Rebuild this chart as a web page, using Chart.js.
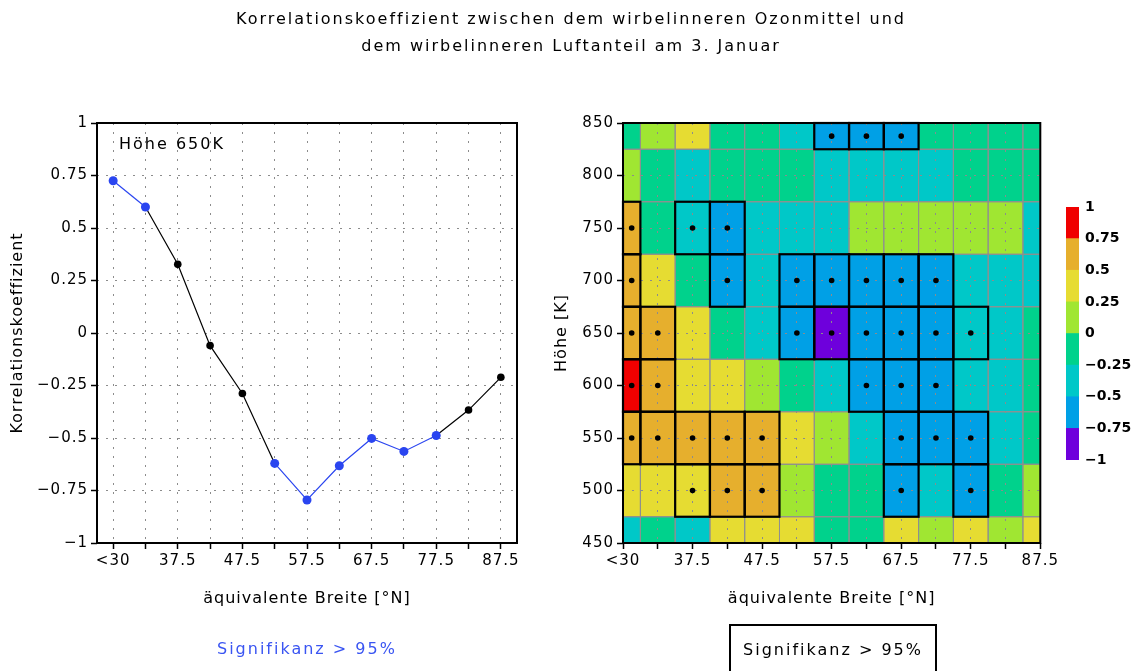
<!DOCTYPE html>
<html lang="de">
<head>
<meta charset="utf-8">
<title>Korrelationskoeffizient Ozonmittel / Luftanteil</title>
<script src="https://cdn.jsdelivr.net/npm/chart.js@4.4.0/dist/chart.umd.min.js"></script>
<style>
  body { margin: 0; background: #fff; }
  #wrap { position: relative; width: 1142px; height: 671px; overflow: hidden; font-family: "DejaVu Sans", sans-serif; }
  #wrap canvas { position: absolute; top: 0; }
  .txt { position: absolute; white-space: nowrap; color: #000; font-size: 16px; letter-spacing: 2px; }
  #titel { left: 0; width: 1142px; top: 5px; text-align: center; line-height: 27px; z-index: 2; }
  #hoehe { left: 119px; top: 134px; line-height: 20px; }
  #sigLinie { left: 217px; top: 639px; line-height: 20px; color: #3a55f2; }
  #sigKarte { left: 729px; top: 624px; width: 204px; height: 60px; border: 2px solid #000; border-bottom: none; line-height: 48px; text-align: center; }
</style>
</head>
<body>
<div id="wrap">
  <div id="titel" class="txt">Korrelationskoeffizient zwischen dem wirbelinneren Ozonmittel und<br>dem wirbelinneren Luftanteil am 3. Januar</div>
  <canvas id="linie" width="540" height="671" style="left:0"></canvas>
  <canvas id="karte" width="520" height="671" style="left:540px"></canvas>
  <canvas id="skala" width="82" height="671" style="left:1060px"></canvas>
  <div id="hoehe" class="txt"></div>
  <div id="sigLinie" class="txt">Signifikanz &gt; 95%</div>
  <div id="sigKarte" class="txt">Signifikanz &gt; 95%</div>
</div>
<script>
// äquivalente Breite (°N), Klassenmitten, und Höhenstufen (K)
const breiten = [27.5, 32.5, 37.5, 42.5, 47.5, 52.5, 57.5, 62.5, 67.5, 72.5, 77.5, 82.5, 87.5];
const breitenLabels = ['<30', '', '37.5', '', '47.5', '', '57.5', '', '67.5', '', '77.5', '', '87.5'];
const hoehen = [850, 800, 750, 700, 650, 600, 550, 500, 450];

// Korrelationskoeffizienten je Höhenstufe (27.5 ... 87.5 °N)
const k850 = [-0.08, 0.1, 0.3, -0.15, -0.2, -0.3, -0.55, -0.6, -0.55, -0.2, -0.15, -0.12, -0.1];
const k800 = [0.05, -0.18, -0.3, -0.22, -0.2, -0.24, -0.35, -0.33, -0.3, -0.28, -0.2, -0.15, -0.12];
const k750 = [0.58, -0.2, -0.45, -0.6, -0.4, -0.35, -0.3, 0.05, 0.1, 0.12, 0.1, 0.05, -0.3];
const k700 = [0.6, 0.35, -0.2, -0.55, -0.45, -0.58, -0.62, -0.6, -0.58, -0.55, -0.45, -0.4, -0.35];
const k650 = [0.725, 0.6, 0.327, -0.06, -0.288, -0.621, -0.795, -0.632, -0.502, -0.564, -0.488, -0.367, -0.211];
const k600 = [0.8, 0.6, 0.35, 0.3, 0.15, -0.1, -0.35, -0.58, -0.62, -0.6, -0.45, -0.35, -0.2];
const k550 = [0.68, 0.65, 0.6, 0.58, 0.55, 0.4, 0.1, -0.3, -0.55, -0.6, -0.55, -0.4, -0.22];
const k500 = [0.4, 0.42, 0.48, 0.55, 0.52, 0.2, -0.1, -0.15, -0.52, -0.45, -0.52, -0.2, 0.05];
const k450 = [-0.3, -0.15, -0.3, 0.3, 0.35, 0.3, -0.1, -0.05, 0.3, 0.2, 0.28, 0.15, 0.3];

// Signifikanz > 95% (1 = signifikant)
const s850 = [0, 0, 0, 0, 0, 0, 1, 1, 1, 0, 0, 0, 0];
const s800 = [0, 0, 0, 0, 0, 0, 0, 0, 0, 0, 0, 0, 0];
const s750 = [1, 0, 1, 1, 0, 0, 0, 0, 0, 0, 0, 0, 0];
const s700 = [1, 0, 0, 1, 0, 1, 1, 1, 1, 1, 0, 0, 0];
const s650 = [1, 1, 0, 0, 0, 1, 1, 1, 1, 1, 1, 0, 0];
const s600 = [1, 1, 0, 0, 0, 0, 0, 1, 1, 1, 0, 0, 0];
const s550 = [1, 1, 1, 1, 1, 0, 0, 0, 1, 1, 1, 0, 0];
const s500 = [0, 0, 1, 1, 1, 0, 0, 0, 1, 0, 1, 0, 0];
const s450 = [0, 0, 0, 0, 0, 0, 0, 0, 0, 0, 0, 0, 0];

const korrelation = [k850, k800, k750, k700, k650, k600, k550, k500, k450];
const signifikanz = [s850, s800, s750, s700, s650, s600, s550, s500, s450];

// Farbstufen der Karte
const stufen = [-1, -0.75, -0.5, -0.25, 0, 0.25, 0.5, 0.75, 1];
const farben = ['#6e00dc', '#00a0e6', '#00c8c8', '#00d28c', '#a0e632', '#e6dc32', '#e6af2d', '#f00000'];

const profilHoehe = 650;

const schrift = '"DejaVu Sans", sans-serif';
const blau = '#2a45f0';
const xMin = 27.5, xMax = 87.5, yMin = 450, yMax = 850;

function zahl(v) {
  if (v === 0) return '0';
  return (v < 0 ? '\u2212' : '') + String(Math.abs(v));
}
function farbe(v) {
  let i = Math.floor((v + 1) / 0.25);
  return farben[Math.max(0, Math.min(farben.length - 1, i))];
}

const pr = hoehen.indexOf(profilHoehe);
const profil = korrelation[pr];
const profilSig = signifikanz[pr];
document.getElementById('hoehe').textContent = 'Höhe ' + profilHoehe + 'K';

const tickFont = { family: schrift, size: 15 };
const titelFont = { family: schrift, size: 16 };

// schwarzer Rahmen um die Zeichenfläche
const rahmen = {
  id: 'rahmen',
  beforeDraw(chart) { chart.ctx.letterSpacing = '1px'; },
  afterDraw(chart) {
    const { ctx, chartArea: a } = chart;
    ctx.save();
    ctx.lineWidth = 2;
    ctx.strokeStyle = '#000';
    ctx.strokeRect(a.left, a.top, a.right - a.left, a.bottom - a.top);
    ctx.restore();
  }
};

function achseX(min, max) {
  return {
    type: 'linear', min: min, max: max,
    afterBuildTicks: s => { s.ticks = breiten.map(v => ({ value: v })); },
    afterFit: s => { s.height = 75; },
    ticks: { callback: (v, i) => breitenLabels[i], autoSkip: false, maxRotation: 0, padding: 3, font: tickFont, color: '#000' },
    grid: { color: '#8c8c8c', lineWidth: 1, tickLength: 6, tickColor: '#000', tickWidth: 1.5 },
    border: { display: false, dash: [2, 7] },
    title: { display: true, text: 'äquivalente Breite [°N]', font: titelFont, color: '#000', padding: { bottom: 10 } }
  };
}

// linkes Bild: Profil in einer Höhe
new Chart(document.getElementById('linie'), {
  type: 'line',
  data: {
    datasets: [{
      data: breiten.map((b, i) => ({ x: b, y: profil[i] })),
      borderWidth: 1.2,
      borderColor: '#000',
      segment: { borderColor: c => (profilSig[c.p0DataIndex] && profilSig[c.p1DataIndex]) ? blau : '#000' },
      pointRadius: profilSig.map(s => s ? 4.5 : 3.8),
      pointBackgroundColor: profilSig.map(s => s ? blau : '#000'),
      pointBorderWidth: 0,
      tension: 0
    }]
  },
  options: {
    responsive: false,
    animation: false,
    layout: { padding: { top: 123, right: 23, bottom: 53, left: 0 } },
    plugins: { legend: { display: false }, tooltip: { enabled: false } },
    scales: {
      x: achseX(25, 90),
      y: {
        min: -1, max: 1,
        afterFit: s => { s.width = 97; },
        ticks: { stepSize: 0.25, callback: zahl, padding: 3, font: tickFont, color: '#000' },
        grid: { color: '#8c8c8c', lineWidth: 1, tickLength: 6, tickColor: '#000', tickWidth: 1.5 },
        border: { display: false, dash: [2, 7] },
        title: { display: true, text: 'Korrelationskoeffizient', font: titelFont, color: '#000', padding: { top: 8 } }
      }
    }
  },
  plugins: [rahmen]
});

// rechtes Bild: Breite-Höhe-Karte
function mitte(v, halb, lo, hi) {
  return (Math.max(lo, v - halb) + Math.min(hi, v + halb)) / 2;
}
const punkte = [];
hoehen.forEach((h, r) => breiten.forEach((b, c) => {
  if (signifikanz[r][c]) punkte.push({ x: mitte(b, 2.5, xMin, xMax), y: mitte(h, 25, yMin, yMax) });
}));

function zelle(chart, b, h) {
  const xs = chart.scales.x, ys = chart.scales.y;
  const x0 = xs.getPixelForValue(Math.max(xMin, b - 2.5));
  const x1 = xs.getPixelForValue(Math.min(xMax, b + 2.5));
  const y0 = ys.getPixelForValue(Math.min(yMax, h + 25));
  const y1 = ys.getPixelForValue(Math.max(yMin, h - 25));
  return [x0, y0, x1 - x0, y1 - y0];
}

const zellen = {
  id: 'zellen',
  beforeDraw(chart) {
    const ctx = chart.ctx;
    ctx.save();
    hoehen.forEach((h, r) => breiten.forEach((b, c) => {
      ctx.fillStyle = farbe(korrelation[r][c]);
      ctx.fillRect(...zelle(chart, b, h));
    }));
    ctx.strokeStyle = '#8f8f8f';
    ctx.lineWidth = 1;
    hoehen.forEach(h => breiten.forEach(b => ctx.strokeRect(...zelle(chart, b, h))));
    ctx.restore();
  },
  afterDraw(chart) {
    const ctx = chart.ctx;
    ctx.save();
    ctx.strokeStyle = '#000';
    ctx.lineWidth = 2.2;
    hoehen.forEach((h, r) => breiten.forEach((b, c) => {
      if (signifikanz[r][c]) ctx.strokeRect(...zelle(chart, b, h));
    }));
    ctx.restore();
  }
};

new Chart(document.getElementById('karte'), {
  type: 'scatter',
  data: {
    datasets: [{
      data: punkte,
      pointRadius: 2.8,
      pointBackgroundColor: '#000',
      pointBorderWidth: 0
    }]
  },
  options: {
    responsive: false,
    animation: false,
    layout: { padding: { top: 123, right: 17, bottom: 53, left: 0 } },
    plugins: { legend: { display: false }, tooltip: { enabled: false } },
    scales: {
      x: achseX(xMin, xMax),
      y: {
        min: yMin, max: yMax,
        afterFit: s => { s.width = 83; },
        ticks: { stepSize: 50, padding: 3, font: tickFont, color: '#000' },
        grid: { color: '#8c8c8c', lineWidth: 1, tickLength: 6, tickColor: '#000', tickWidth: 1.5 },
        border: { display: false, dash: [2, 7] },
        title: { display: true, text: 'Höhe [K]', font: titelFont, color: '#000', padding: { top: 12 } }
      }
    }
  },
  plugins: [zellen, rahmen]
});

// Farbskala
new Chart(document.getElementById('skala'), {
  type: 'bar',
  data: {
    labels: [''],
    datasets: farben.map((f, i) => ({
      data: [[stufen[i], stufen[i + 1]]],
      backgroundColor: f,
      grouped: false,
      barPercentage: 1,
      categoryPercentage: 1,
      borderWidth: 0
    }))
  },
  options: {
    responsive: false,
    animation: false,
    layout: { padding: { top: 207, right: 0, bottom: 211, left: 6 } },
    plugins: { legend: { display: false }, tooltip: { enabled: false } },
    scales: {
      x: { display: false },
      y: {
        position: 'right', min: -1, max: 1,
        afterFit: s => { s.width = 63; },
        grid: { display: false, drawTicks: false },
        border: { display: false },
        ticks: { stepSize: 0.25, padding: 6, callback: zahl, font: { family: schrift, size: 14, weight: 'bold' }, color: '#000' }
      }
    }
  }
});
</script>
</body>
</html>
